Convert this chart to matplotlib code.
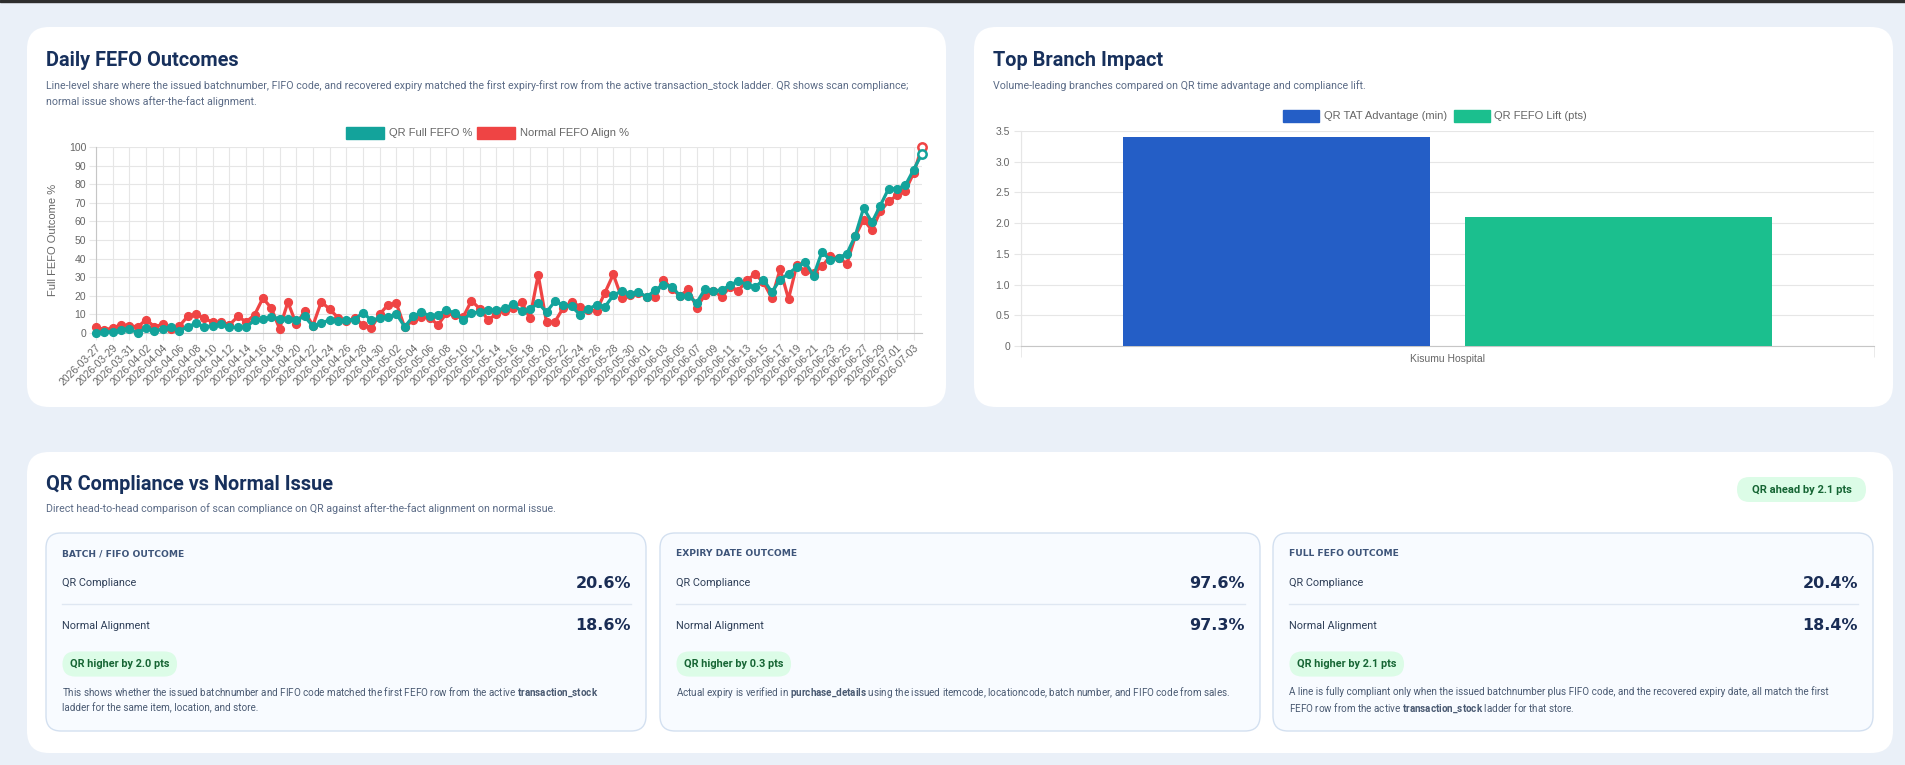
import matplotlib
matplotlib.use("Agg")
import matplotlib.pyplot as plt
from matplotlib.patches import FancyBboxPatch, Rectangle
import numpy as np
import pandas as pd

plt.rcParams["mathtext.fontset"] = "custom"
plt.rcParams["mathtext.rm"] = "Roboto"
plt.rcParams["mathtext.bf"] = "Roboto:bold"

W, H = 1905, 765

# ---- data ----
dates = pd.date_range("2026-03-27", "2026-07-04", freq="D").strftime("%Y-%m-%d").tolist()

qr_full_fefo = [
    0.0, 0.5, 0.7, 1.6, 2.2, 0.0, 2.8, 1.2, 1.9, 3.2,
    1.2, 3.4, 5.2, 3.4, 3.9, 5.0, 3.0, 3.0, 3.2, 6.8,
    7.4, 8.6, 7.7, 7.7, 7.1, 8.9, 3.6, 5.3, 7.0, 6.2,
    6.9, 7.2, 11.0, 6.8, 8.0, 8.6, 10.3, 3.3, 8.9, 11.2,
    9.2, 9.9, 12.3, 10.8, 7.0, 10.8, 11.3, 12.4, 12.3, 13.4,
    15.4, 11.6, 12.7, 16.0, 11.3, 17.0, 15.0, 14.3, 9.9, 12.8,
    15.2, 14.1, 20.2, 22.6, 20.8, 22.2, 19.3, 23.0, 26.0, 25.0,
    20.0, 19.8, 16.3, 23.7, 22.4, 23.3, 25.6, 28.1, 26.0, 24.6,
    28.7, 22.0, 28.7, 31.9, 35.5, 38.2, 30.8, 43.5, 39.4, 40.3,
    42.7, 52.3, 67.2, 59.5, 68.5, 77.6, 77.6, 79.4, 87.8, 96.4,
]
normal_fefo_align = [
    3.0, 1.8, 2.6, 4.4, 4.0, 3.2, 7.2, 3.4, 4.6, 2.3,
    3.8, 9.0, 10.1, 7.8, 5.8, 5.8, 4.4, 8.9, 6.0, 9.7,
    18.7, 13.5, 2.3, 16.6, 4.8, 11.6, 4.0, 16.8, 12.8, 8.3,
    6.4, 7.9, 4.5, 2.7, 10.1, 15.2, 15.9, 3.0, 7.0, 8.8,
    7.9, 4.5, 10.5, 9.5, 8.5, 17.4, 13.0, 7.0, 10.3, 12.0,
    13.2, 16.7, 8.0, 31.3, 5.7, 6.0, 13.5, 16.8, 14.2, 12.5,
    12.0, 21.7, 31.5, 19.0, 20.5, 21.7, 19.3, 19.3, 28.7, 23.7,
    20.0, 23.5, 13.6, 20.6, 22.8, 19.4, 25.0, 22.8, 28.3, 31.7,
    27.2, 18.8, 34.4, 18.3, 36.7, 33.2, 32.3, 35.8, 41.2, 40.3,
    37.3, 52.0, 61.0, 55.2, 65.4, 70.8, 74.0, 76.5, 86.0, 100.0,
]

branches = ["Kisumu Hospital"]
tat_advantage = [3.4]
fefo_lift = [2.1]

card_titles = ["BATCH / FIFO OUTCOME", "EXPIRY DATE OUTCOME", "FULL FEFO OUTCOME"]
qr_compliance = [20.6, 97.6, 20.4]
normal_alignment = [18.6, 97.3, 18.4]
qr_gap = [2.0, 0.3, 2.1]
overall_gap = 2.1
card_notes = [
    ["This shows whether the issued batchnumber and FIFO code matched the first FEFO row from the active $\\mathbf{transaction\\_stock}$",
     "ladder for the same item, location, and store."],
    ["Actual expiry is verified in $\\mathbf{purchase\\_details}$ using the issued itemcode, locationcode, batch number, and FIFO code from sales."],
    ["A line is fully compliant only when the issued batchnumber plus FIFO code, and the recovered expiry date, all match the first",
     "FEFO row from the active $\\mathbf{transaction\\_stock}$ ladder for that store."],
]

TEAL = "#13a39b"
RED = "#ef4444"
BLUE = "#245ec6"
GREEN = "#1bbf8e"
NAVY = "#17305c"
SUB = "#5b6b86"
TICK = "#666666"
GRID = "#e6e6e6"
HEAD_FONT = "Roboto"
CHART_FONT = "Liberation Sans"


def add_axes_px(fig, x0, y0, x1, y1):
    return fig.add_axes([x0 / W, 1 - y1 / H, (x1 - x0) / W, (y1 - y0) / H])


def rounded(ax, x0, y0, x1, y1, r, face, edge="none", lw=0.0):
    box = FancyBboxPatch((x0, y0), x1 - x0, y1 - y0,
                         boxstyle=f"round,pad=0,rounding_size={r}",
                         facecolor=face, edgecolor=edge, linewidth=lw)
    ax.add_patch(box)


fig = plt.figure(figsize=(W / 100, H / 100), dpi=100)
fig.patch.set_facecolor("#eaf0f8")

bg = fig.add_axes([0, 0, 1, 1])
bg.set_xlim(0, W)
bg.set_ylim(H, 0)
bg.axis("off")
bg.add_patch(Rectangle((0, 0), W, 2, color="#2e2e2e"))

# panels
rounded(bg, 27, 27, 946, 407, 22, "white")
rounded(bg, 974, 27, 1893, 407, 22, "white")
rounded(bg, 27, 452, 1893, 753, 22, "white")

# ---- panel 1 header ----
bg.text(46, 60, "Daily FEFO Outcomes", fontsize=14.3, fontweight="bold",
        color=NAVY, family=HEAD_FONT, va="center")
bg.text(46, 86, "Line-level share where the issued batchnumber, FIFO code, and recovered expiry matched the first "
        "expiry-first row from the active transaction_stock ladder. QR shows scan compliance;",
        fontsize=7.7, color=SUB, family=HEAD_FONT, va="center")
bg.text(46, 102, "normal issue shows after-the-fact alignment.",
        fontsize=7.7, color=SUB, family=HEAD_FONT, va="center")

# legend 1
bg.add_patch(Rectangle((346, 127), 38, 12, facecolor=TEAL, edgecolor=TEAL))
bg.text(389, 133, "QR Full FEFO %", fontsize=8, color=TICK, family=CHART_FONT, va="center")
bg.add_patch(Rectangle((477, 127), 38, 12, facecolor=RED, edgecolor=RED))
bg.text(520, 133, "Normal FEFO Align %", fontsize=8, color=TICK, family=CHART_FONT, va="center")
bg.text(53, 240, "Full FEFO Outcome %", rotation=90, fontsize=8, color=TICK,
        family=CHART_FONT, va="center", ha="center")

# ---- line chart ----
ax = add_axes_px(fig, 96, 147, 922, 333)
x = np.arange(len(dates))
for series, color, z in [(normal_fefo_align, RED, 3), (qr_full_fefo, TEAL, 4)]:
    ax.plot(x, series, color=color, lw=2.3, marker="o", ms=5.6, clip_on=False, zorder=z)
    ax.plot(x[-1], series[-1], marker="o", ms=6, mfc="white", mec=color, mew=1.8,
            clip_on=False, zorder=z + 2)
ax.set_xlim(0, len(dates) - 1)
ax.set_ylim(0, 100)
ax.set_xticks(x[::2])
ax.set_xticklabels(dates[::2], rotation=45, ha="right", rotation_mode="anchor",
                   fontsize=7.5, color=TICK, family=CHART_FONT)
ax.set_yticks(range(0, 101, 10))
ax.set_yticklabels([str(v) for v in range(0, 101, 10)], fontsize=7.5, color=TICK, family=CHART_FONT)
ax.grid(color=GRID, lw=0.8)
ax.set_axisbelow(True)
ax.tick_params(length=5, color=GRID, pad=2)
for side in ["top", "right"]:
    ax.spines[side].set_visible(False)
for side in ["left", "bottom"]:
    ax.spines[side].set_color("#c6c6c6")

# ---- panel 2 header ----
bg.text(993, 60, "Top Branch Impact", fontsize=14.3, fontweight="bold",
        color=NAVY, family=HEAD_FONT, va="center")
bg.text(993, 86, "Volume-leading branches compared on QR time advantage and compliance lift.",
        fontsize=7.7, color=SUB, family=HEAD_FONT, va="center")
bg.add_patch(Rectangle((1283, 110), 36, 12, facecolor=BLUE, edgecolor=BLUE))
bg.text(1324, 116, "QR TAT Advantage (min)", fontsize=8, color=TICK, family=CHART_FONT, va="center")
bg.add_patch(Rectangle((1454, 110), 36, 12, facecolor=GREEN, edgecolor=GREEN))
bg.text(1494, 116, "QR FEFO Lift (pts)", fontsize=8, color=TICK, family=CHART_FONT, va="center")

# ---- bar chart ----
axb = add_axes_px(fig, 1021, 131, 1874, 346)
xb = np.arange(len(branches))
axb.bar(xb - 0.2, tat_advantage, width=0.36, color=BLUE, zorder=3)
axb.bar(xb + 0.2, fefo_lift, width=0.36, color=GREEN, zorder=3)
axb.set_xlim(-0.5, len(branches) - 0.5)
axb.set_ylim(0, 3.5)
yt = np.arange(0, 3.51, 0.5)
axb.set_yticks(yt)
axb.set_yticklabels(["0"] + [f"{v:.1f}" for v in yt[1:]], fontsize=7.5, color=TICK, family=CHART_FONT)
axb.set_xticks(xb)
axb.set_xticklabels(branches, fontsize=7.5, color=TICK, family=CHART_FONT)
axb.set_xticks([-0.5, 0.5], minor=True)
axb.tick_params(axis="x", which="major", length=0, pad=6)
axb.tick_params(axis="x", which="minor", length=8, color=GRID)
axb.tick_params(axis="y", length=5, color=GRID, pad=3)
axb.grid(axis="y", color=GRID, lw=0.8)
axb.grid(axis="x", which="minor", color=GRID, lw=0.8)
axb.set_axisbelow(True)
axb.spines["top"].set_visible(False)
axb.spines["right"].set_visible(False)
axb.spines["left"].set_color(GRID)
axb.spines["bottom"].set_color("#c6c6c6")

# ---- panel 3 ----
bg.text(46, 484, "QR Compliance vs Normal Issue", fontsize=14.3, fontweight="bold",
        color=NAVY, family=HEAD_FONT, va="center")
bg.text(46, 509, "Direct head-to-head comparison of scan compliance on QR against after-the-fact "
        "alignment on normal issue.", fontsize=7.7, color=SUB, family=HEAD_FONT, va="center")
rounded(bg, 1737, 477, 1866, 502, 12.5, "#dcfce7")
bg.text(1801.5, 490, f"QR ahead by {overall_gap:.1f} pts", fontsize=8, fontweight="bold",
        color="#166534", family=HEAD_FONT, ha="center", va="center")

card_x = [46, 660, 1273]
card_w = 600
for i, x0 in enumerate(card_x):
    x1 = x0 + card_w
    rounded(bg, x0, 533, x1, 731, 15, "#f8fbff", "#d3e0f0", 1.0)
    bg.text(x0 + 16, 554, card_titles[i], fontsize=6.6, fontweight="bold",
            color="#3d5479", family="DejaVu Sans", va="center")
    bg.text(x0 + 16, 583, "QR Compliance", fontsize=7.8, color="#2f3f58",
            family=HEAD_FONT, va="center")
    bg.text(x1 - 15, 583, f"{qr_compliance[i]:.1f}%", fontsize=11.5, fontweight="bold",
            color="#1a2d55", family="DejaVu Sans", va="center", ha="right")
    bg.plot([x0 + 16, x1 - 15], [604, 604], color="#dfe7f2", lw=1)
    bg.text(x0 + 16, 626, "Normal Alignment", fontsize=7.8, color="#2f3f58",
            family=HEAD_FONT, va="center")
    bg.text(x1 - 15, 626, f"{normal_alignment[i]:.1f}%", fontsize=11.5, fontweight="bold",
            color="#1a2d55", family="DejaVu Sans", va="center", ha="right")
    bg.text(x0 + 24, 664, f"QR higher by {qr_gap[i]:.1f} pts", fontsize=7.8, fontweight="bold",
            color="#166534", family=HEAD_FONT, va="center",
            bbox={"boxstyle": "round,pad=0.7,rounding_size=1.2",
                  "facecolor": "#dcfce7", "edgecolor": "none"})
    for j, line in enumerate(card_notes[i]):
        bg.text(x0 + 16, 692 + 16 * j, line, fontsize=7.1, color="#4a5a72",
                family=HEAD_FONT, va="center")

fig.savefig("out.png", dpi=100, facecolor=fig.get_facecolor())
